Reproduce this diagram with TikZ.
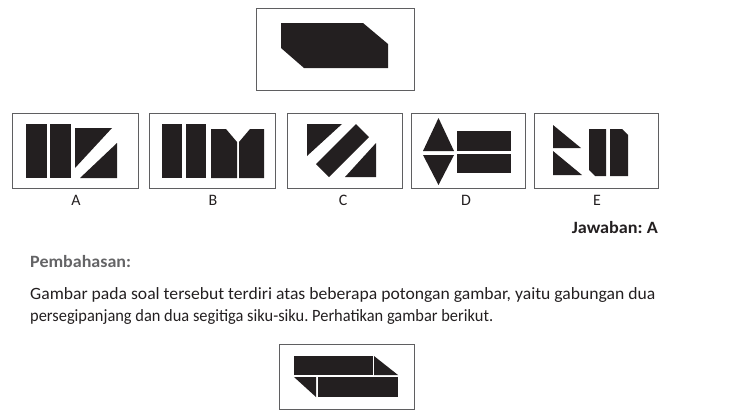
\documentclass[tikz,border=0pt]{standalone}
\usepackage{fontspec}
\setmainfont{Carlito}
\frenchspacing
\definecolor{ink}{RGB}{35,31,32}
\definecolor{frame}{RGB}{95,95,97}
\definecolor{subgray}{RGB}{100,100,102}
\tikzset{
  piece/.style={fill=ink, draw=none},
  optbox/.style={draw=frame, line width=0.9bp},
  lbl/.style={font=\fontsize{16}{19}\selectfont, text=ink, inner sep=0pt, anchor=base},
  body/.style={font=\fontsize{17.3}{20}\selectfont, text=ink, inner sep=0pt, anchor=base west},
}
\begin{document}
\begin{tikzpicture}[x=1bp,y=-1bp]
\useasboundingbox (0,0) rectangle (729,418);
% question
\draw[optbox] (256,8) rectangle (414,90);
\fill[piece] (281,23) -- (363,23) -- (388,44) -- (388,68) -- (304,68) -- (281,48) -- cycle;
% option boxes
\draw[optbox] (12,113) rectangle (138,188);
\draw[optbox] (149,113) rectangle (275,188);
\draw[optbox] (287,113) rectangle (402,188);
\draw[optbox] (411,113) rectangle (525,188);
\draw[optbox] (534,113) rectangle (658,188);
% A
\fill[piece] (26,124) rectangle (47,178);
\fill[piece] (50,124) rectangle (71,178);
\fill[piece] (75,128) -- (112,128) -- (75,168) -- cycle;
\fill[piece] (117,143) -- (117,178) -- (80,178) -- cycle;
% B
\fill[piece] (162,124) rectangle (182,178);
\fill[piece] (186,124) rectangle (206,178);
\fill[piece] (211,129) -- (226,129) -- (237,142) -- (237,178) -- (211,178) -- cycle;
\fill[piece] (239,142) -- (250,129) -- (264,129) -- (264,178) -- (239,178) -- cycle;
% C
\fill[piece] (307,124) -- (342,124) -- (307,156) -- cycle;
\fill[piece] (356,124) -- (369,137) -- (329,177) -- (316,164) -- cycle;
\fill[piece] (376,143) -- (376,177) -- (345,177) -- cycle;
% D
\fill[piece] (423,151) -- (454,151) -- (438.5,118) -- cycle;
\fill[piece] (423,155) -- (454,155) -- (438.5,185) -- cycle;
\fill[piece] (457,131) rectangle (511,151);
\fill[piece] (457,154) rectangle (511,173);
% E
\fill[piece] (553,125) -- (553,148) -- (581,148) -- cycle;
\fill[piece] (553,151) -- (553,175) -- (582,175) -- cycle;
\fill[piece] (589,129) -- (606,129) -- (606,176) -- (595,176) -- (589,170) -- cycle;
\fill[piece] (610,129) -- (622,129) -- (628,135) -- (628,176) -- (610,176) -- cycle;
% labels
\node[lbl] (la) at (76,205) {A};
\node[lbl] (lb) at (213,205) {B};
\node[lbl] (lc) at (343,205) {C};
\node[lbl] (ld) at (466,205) {D};
\node[lbl] (le) at (597,205) {E};
\node[lbl, anchor=base east, xscale=1.056, font=\fontsize{17.3}{20}\selectfont\bfseries] (jaw) at (658,233) {Jawaban: A};
\node[body, text=subgray, xscale=1.045, font=\fontsize{17.3}{20}\selectfont\bfseries] (pem) at (30,267) {Pembahasan:};
\node[body, xscale=1.023] (l1) at (30,299) {Gambar pada soal tersebut terdiri atas beberapa potongan gambar, yaitu gabungan dua};
\node[body, xscale=0.952] (l2) at (30,321) {persegipanjang dan dua segitiga siku-siku. Perhatikan gambar berikut.};
% answer figure
\draw[optbox] (279,344) rectangle (414,409);
\fill[piece] (294,356) rectangle (373,375);
\fill[piece] (374,356) -- (374,375) -- (398,375) -- cycle;
\fill[piece] (294,377) -- (316,377) -- (316,397) -- cycle;
\fill[piece] (318,377) rectangle (398,397);
\end{tikzpicture}
\end{document}
